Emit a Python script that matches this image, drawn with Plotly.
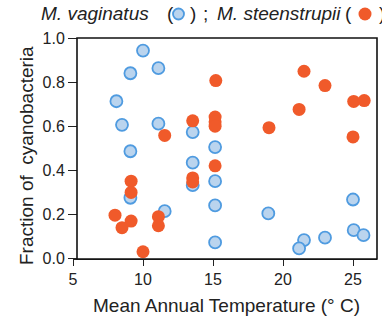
import plotly.graph_objects as go

# ---- data ----
vag_temp = [10.0, 11.1, 9.1, 8.1, 8.5, 11.1, 13.55, 9.1, 13.55, 13.55, 9.1, 11.55,
            15.15, 15.15, 15.15, 15.15, 18.95, 21.5, 21.15, 23.0, 25.0, 25.05, 25.75]
vag_frac = [0.943, 0.863, 0.84, 0.713, 0.606, 0.611, 0.573, 0.486, 0.434, 0.332, 0.275, 0.214,
            0.505, 0.35, 0.24, 0.072, 0.204, 0.083, 0.045, 0.094, 0.267, 0.128, 0.105]

ste_temp = [15.2, 21.5, 23.0, 25.05, 25.8, 21.15, 15.15, 15.15, 15.15, 19.0, 25.0, 13.55,
            11.55, 15.15, 13.55, 13.55, 9.15, 9.15, 8.0, 9.15, 8.5, 11.1, 11.1, 10.0]
ste_frac = [0.807, 0.849, 0.784, 0.712, 0.716, 0.676, 0.641, 0.62, 0.60, 0.593, 0.551, 0.624,
            0.558, 0.42, 0.365, 0.347, 0.35, 0.299, 0.196, 0.169, 0.139, 0.189, 0.148, 0.03]

x_ticks = [5, 10, 15, 20, 25]
y_ticks = [0.0, 0.2, 0.4, 0.6, 0.8, 1.0]
y_tick_text = ["0.0", "0.2", "0.4", "0.6", "0.8", "1.0"]

title_parts = [("<i>M. vaginatus</i>", 39), ("(", 165), (")", 188), (";", 201),
               ("<i>M. steenstrupii</i>", 215), ("(", 343), (")", 377)]

# ---- layout geometry ----
W, H = 382, 321
L, R, T, B = 73, 5, 38, 62
pw = W - L - R
ph = H - T - B
px_per_unit = 14.0
x_lo = 5.0
x_hi = x_lo + pw / px_per_unit
box_off = 4 / pw

FONT = "Liberation Sans, Arial, sans-serif"
BLUE_FILL = "#bad4ee"
BLUE_LINE = "#4f9be0"
RED = "#f05a2a"
TXT = "#222222"

fig = go.Figure()
fig.add_trace(go.Scatter(
    x=vag_temp, y=vag_frac, mode="markers", cliponaxis=False,
    marker=dict(size=12, color=BLUE_FILL, line=dict(color=BLUE_LINE, width=1.8)),
    showlegend=False))
fig.add_trace(go.Scatter(
    x=ste_temp, y=ste_frac, mode="markers", cliponaxis=False,
    marker=dict(size=13, color=RED, line=dict(width=0)),
    showlegend=False))

fig.update_layout(
    width=W, height=H,
    margin=dict(l=L, r=R, t=T, b=B, pad=0, autoexpand=False),
    paper_bgcolor="white", plot_bgcolor="white",
    font=dict(family=FONT, color=TXT),
    xaxis=dict(range=[x_lo, x_hi], tickvals=x_ticks, ticks="outside", ticklen=6,
               tickwidth=1.3, tickcolor="#222", showline=True, linecolor="#222",
               linewidth=1.3, showgrid=False, zeroline=False, automargin=False,
               tickfont=dict(size=16, family=FONT, color=TXT)),
    yaxis=dict(range=[-0.003, 1.0], tickvals=y_ticks, ticktext=y_tick_text,
               anchor="free", position=box_off, ticks="outside", ticklen=9,
               tickwidth=1.3, tickcolor="#222", showline=False, showgrid=False,
               zeroline=False, automargin=False,
               tickfont=dict(size=16, family=FONT, color=TXT)),
)

# plot box
fig.add_shape(type="rect", xref="paper", yref="paper", x0=box_off, x1=1, y0=0, y1=1,
              line=dict(color="#111", width=1.6), layer="above")

# axis titles
fig.add_annotation(text="Mean Annual Temperature (° C)", xref="paper", yref="paper",
                   x=(226 - L) / pw, y=(ph + T - 305) / ph, xanchor="center", yanchor="middle",
                   showarrow=False, font=dict(size=19, family=FONT, color=TXT))
fig.add_annotation(text="Fraction of  cyanobacteria", xref="paper", yref="paper",
                   x=(26 - L) / pw, y=(ph + T - 156) / ph, xanchor="center", yanchor="middle",
                   textangle=-90, showarrow=False, font=dict(size=19, family=FONT, color=TXT))

# title pieces
for txt, px in title_parts:
    fig.add_annotation(text=txt, xref="paper", yref="paper",
                       x=(px - L) / pw, y=1 + (T - 14) / ph, xanchor="left", yanchor="middle",
                       showarrow=False, font=dict(size=19, family=FONT, color=TXT))

# legend symbols inside the title
for cx, fill, lc, lw, d in [(178.5, BLUE_FILL, BLUE_LINE, 1.8, 11), (365, RED, RED, 0, 13)]:
    fig.add_shape(type="circle", xref="paper", yref="paper", xsizemode="pixel", ysizemode="pixel",
                  xanchor=(cx - L) / pw, yanchor=1 + (T - 14) / ph,
                  x0=-d / 2, x1=d / 2, y0=-d / 2, y1=d / 2,
                  fillcolor=fill, line=dict(color=lc, width=lw))

fig.write_html("out.html", config={"displayModeBar": False},
               post_script="document.body.style.margin='0px';")
